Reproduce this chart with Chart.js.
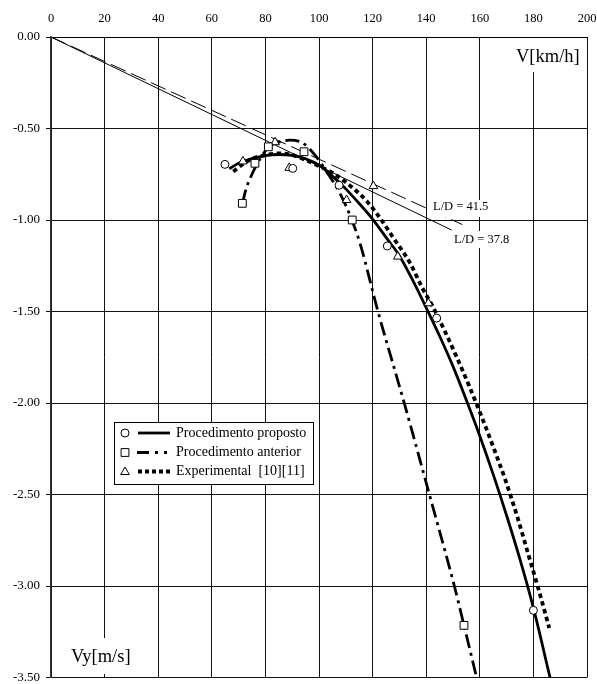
<!DOCTYPE html>
<html><head><meta charset="utf-8">
<script src="https://cdn.jsdelivr.net/npm/chart.js@4.4.1/dist/chart.umd.min.js"></script>
<style>html,body{margin:0;padding:0;background:#fff}canvas{display:block}</style>
</head><body>
<canvas id="c" width="597" height="684"></canvas>
<script>
// ---- data (V in km/h, Vy in m/s) ----
const propostoCurveV  = [66.5,70,75,80,85,90,95,100,105,110,115,120,125,130,135,141,145,150,155,160,165,170,175,180,186.2];
const propostoCurveVy = [-0.72,-0.69,-0.665,-0.648,-0.642,-0.647,-0.665,-0.70,-0.76,-0.83,-0.91,-0.995,-1.095,-1.195,-1.33,-1.51,-1.634,-1.80,-1.985,-2.18,-2.39,-2.615,-2.855,-3.12,-3.5];
const propostoPtsV  = [64.9,90.2,107.5,125.5,143.9,180];
const propostoPtsVy = [-0.696,-0.718,-0.81,-1.142,-1.536,-3.133];

const anteriorCurveV  = [71.4,73,75,78,81,85,89,94,98.5,103,107.8,112,115.3,122,131.8,141.2,150.5,154.1,158.8];
const anteriorCurveVy = [-0.91,-0.82,-0.75,-0.665,-0.605,-0.575,-0.564,-0.58,-0.645,-0.74,-0.854,-0.99,-1.127,-1.5,-2.0,-2.5,-3.0,-3.215,-3.5];
const anteriorPtsV  = [71.4,76.1,81.1,94.4,112.4,154.1];
const anteriorPtsVy = [-0.909,-0.69,-0.60,-0.627,-1.0,-3.215];

const experimentalCurveV  = [68,72,75.5,80,85.4,90,96.6,100,105.3,112.8,118,122.8,127.4,134,138.3,142.7,147,151.5,156,160.5,165,169.5,174,178,182,185.9];
const experimentalCurveVy = [-0.735,-0.69,-0.663,-0.645,-0.636,-0.645,-0.682,-0.705,-0.745,-0.827,-0.90,-0.99,-1.09,-1.236,-1.364,-1.48,-1.609,-1.753,-1.906,-2.068,-2.239,-2.419,-2.622,-2.822,-3.022,-3.229];
const experimentalPtsV  = [71.6,83.6,88.9,110.3,120.3,129.4,140.8];
const experimentalPtsVy = [-0.68,-0.575,-0.715,-0.891,-0.815,-1.2,-1.455];

const ld415V  = [0,153.5];
const ld415Vy = [0,-1.025];
const ld378V  = [0,149.5];
const ld378Vy = [0,-1.055];

const ldLabels = ['L/D = 41.5','L/D = 37.8'];
const legendLabels = ['Procedimento proposto','Procedimento anterior','Experimental  [10][11]'];
const xAxisTitle = 'V[km/h]';
const yAxisTitle = 'Vy[m/s]';

const pts = (xs, ys) => xs.map((x, i) => ({x, y: ys[i]}));
const FONT = "'Liberation Serif','Times New Roman',serif";

const markerBase = {showLine:false, pointBackgroundColor:'#fff', pointBorderColor:'#000', pointBorderWidth:1, borderColor:'#000', backgroundColor:'#fff'};

const datasets = [
  Object.assign({label:'p-pts', data:pts(propostoPtsV, propostoPtsVy), pointStyle:'circle', pointRadius:4}, markerBase),
  Object.assign({label:'a-pts', data:pts(anteriorPtsV, anteriorPtsVy), pointStyle:'rect', pointRadius:5.5}, markerBase),
  Object.assign({label:'e-pts', data:pts(experimentalPtsV, experimentalPtsVy), pointStyle:'triangle', pointRadius:5}, markerBase),
  {label:'p', data:pts(propostoCurveV, propostoCurveVy), borderColor:'#000', borderWidth:2.8, pointRadius:0, cubicInterpolationMode:'monotone', fill:false},
  {label:'e', data:pts(experimentalCurveV, experimentalCurveVy), borderColor:'#000', borderWidth:3.8, borderDash:[4.5,3.5], borderCapStyle:'butt', pointRadius:0, cubicInterpolationMode:'monotone', fill:false},
  {label:'a', data:pts(anteriorCurveV, anteriorCurveVy), borderColor:'#000', borderWidth:2.8, borderDash:[14,5,3,5], pointRadius:0, cubicInterpolationMode:'monotone', fill:false},
  {label:'ld415', data:pts(ld415V, ld415Vy), borderColor:'#000', borderWidth:1, borderDash:[16,6], pointRadius:0, tension:0},
  {label:'ld378', data:pts(ld378V, ld378Vy), borderColor:'#000', borderWidth:1, pointRadius:0, tension:0}
];

function textBox(ctx, txt, x, y, size, box) {
  ctx.save();
  ctx.fillStyle = '#fff';
  ctx.fillRect(box[0], box[1], box[2], box[3]);
  ctx.fillStyle = '#000';
  ctx.font = size + 'px ' + FONT;
  ctx.textAlign = 'left';
  ctx.textBaseline = 'middle';
  ctx.fillText(txt, x, y);
  ctx.restore();
}
function marker(ctx, style, x, y) {
  ctx.save();
  ctx.fillStyle = '#fff'; ctx.strokeStyle = '#000'; ctx.lineWidth = 1;
  ctx.beginPath();
  if (style === 'circle') { ctx.arc(x, y, 4, 0, Math.PI*2); }
  else if (style === 'rect') { ctx.rect(x-3.9, y-3.9, 7.8, 7.8); }
  else { const r = 5; ctx.moveTo(x, y-r); ctx.lineTo(x+r*0.866, y+r*0.5); ctx.lineTo(x-r*0.866, y+r*0.5); ctx.closePath(); }
  ctx.fill(); ctx.stroke();
  ctx.restore();
}

const overlay = {
  id:'overlay',
  afterDraw(chart) {
    const ctx = chart.ctx;
    textBox(ctx, ldLabels[0], 433, 207, 12.5, [431, 200, 58, 17]);
    textBox(ctx, ldLabels[1], 454, 240, 12.5, [452, 231, 58, 17]);
    textBox(ctx, xAxisTitle, 516, 57, 18.5, [513, 38, 68, 34]);
    textBox(ctx, yAxisTitle, 71, 657, 18.5, [68, 638, 68, 36]);
    ctx.save();
    ctx.fillStyle = '#fff'; ctx.strokeStyle = '#000'; ctx.lineWidth = 1;
    ctx.fillRect(114.5, 422.5, 199, 62);
    ctx.strokeRect(114.5, 422.5, 199, 62);
    const rows = [433, 452.5, 471.5];
    ctx.strokeStyle = '#000';
    ctx.lineWidth = 2.8; ctx.setLineDash([]);
    ctx.beginPath(); ctx.moveTo(138, rows[0]); ctx.lineTo(170, rows[0]); ctx.stroke();
    ctx.lineWidth = 3; ctx.setLineDash([12,6,3,6,3,100]); ctx.lineCap='butt';
    ctx.beginPath(); ctx.moveTo(137, rows[1]); ctx.lineTo(172, rows[1]); ctx.stroke();
    ctx.lineWidth = 4; ctx.setLineDash([4,3]);
    ctx.beginPath(); ctx.moveTo(138, rows[2]); ctx.lineTo(171, rows[2]); ctx.stroke();
    ctx.setLineDash([]);
    ctx.restore();
    marker(ctx, 'circle', 125, rows[0]);
    marker(ctx, 'rect', 125, rows[1]);
    marker(ctx, 'triangle', 125, rows[2]+0.5);
    ctx.save();
    ctx.fillStyle = '#000'; ctx.font = '14px ' + FONT; ctx.textBaseline = 'middle'; ctx.textAlign='left';
    legendLabels.forEach((t, i) => ctx.fillText(t, 176, rows[i]));
    ctx.restore();
  }
};

new Chart(document.getElementById('c'), {
  type:'line',
  data:{datasets},
  options:{
    responsive:false, animation:false, devicePixelRatio:1,
    layout:{padding:{left:0, right:10, top:0, bottom:6}},
    plugins:{legend:{display:false}, tooltip:{enabled:false}},
    elements:{line:{borderJoinStyle:'round'}},
    scales:{
      x:{type:'linear', position:'top', min:0, max:200,
         ticks:{stepSize:20, autoSkip:false, maxRotation:0, padding:11, color:'#000', font:{family:FONT, size:12.5}},
         grid:{color:'#111', lineWidth:1, drawTicks:false},
         border:{color:'#000', width:1},
         afterFit(s){ s.height = 37; s.paddingLeft = 0; s.paddingRight = 0; }},
      y:{type:'linear', min:-3.5, max:0,
         ticks:{stepSize:0.5, autoSkip:false, padding:6, color:'#000', font:{family:FONT, size:13}, callback:v => Number(v).toFixed(2)},
         grid:{color:'#111', lineWidth:1, tickLength:5, drawTicks:true},
         border:{color:'#333', width:1.5},
         afterFit(s){ s.width = 51; s.paddingTop = 0; s.paddingBottom = 0; }}
    }
  },
  plugins:[overlay]
});
</script>
</body></html>
